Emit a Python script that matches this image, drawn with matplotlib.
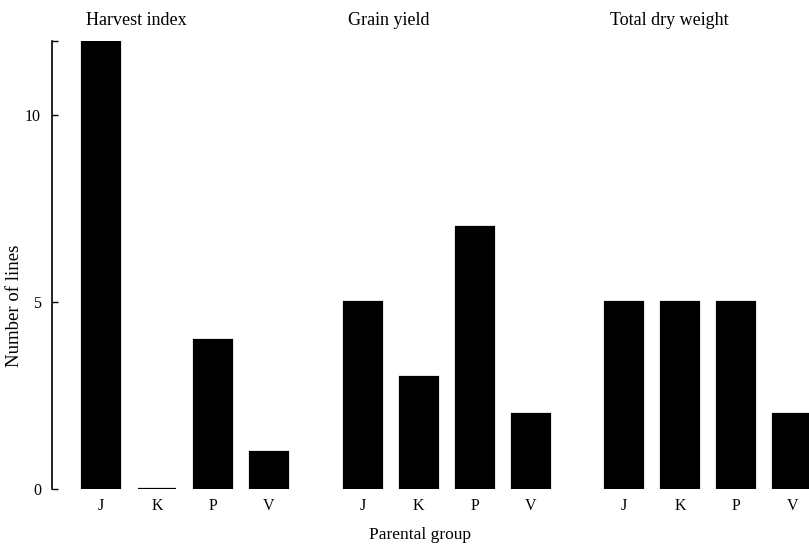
import numpy as np
import matplotlib.pyplot as plt

# dados
grupos = ["J", "K", "P", "V"]
titulos = ["Harvest index", "Grain yield", "Total dry weight"]
harvest_index = [12, 0, 4, 1]
grain_yield = [5, 3, 7, 2]
total_dry_weight = [5, 5, 5, 2]
valores = [harvest_index, grain_yield, total_dry_weight]
yticks = [0, 5, 10, 12]
ytick_labels = ["0", "5", "10", ""]

plt.rcParams['font.family'] = ['Liberation Serif', 'DejaVu Serif']

fig = plt.figure(figsize=(8.09, 5.44), dpi=100)
ax = fig.add_axes([52 / 809, 55 / 544, 757 / 809, 448.3 / 544])

passo_grupo = 4.67
largura = 0.68
pos = np.arange(len(grupos))

for g, vals in enumerate(valores):
    x = pos + g * passo_grupo
    ax.bar(x, vals, width=largura, color='black', edgecolor='black', linewidth=1.6)
    for xi, lab in zip(x, grupos):
        ax.text(xi, -0.45, lab, ha='center', va='center', fontsize=11.5, clip_on=False)
    ax.text(x[0] - largura / 2 + 0.08, 12.54, titulos[g], ha='left', va='center',
            fontsize=13, clip_on=False)

ax.set_xlim(-0.875, 12.64)
ax.set_ylim(0, 12)
ax.set_yticks(yticks)
ax.set_yticklabels(ytick_labels, fontsize=11.5)
ax.tick_params(axis='y', direction='in', length=4, width=1, pad=8)
ax.set_xticks([])
for lado in ['top', 'right', 'bottom']:
    ax.spines[lado].set_visible(False)
ax.spines['left'].set_linewidth(1.2)

fig.text(15 / 809, 1 - 306 / 544, "Number of lines", rotation=90,
         ha='center', va='center', fontsize=13.5)
fig.text(420 / 809, 1 - 535 / 544, "Parental group", ha='center', va='center', fontsize=12.5)

fig.savefig("out.png", dpi=100)
